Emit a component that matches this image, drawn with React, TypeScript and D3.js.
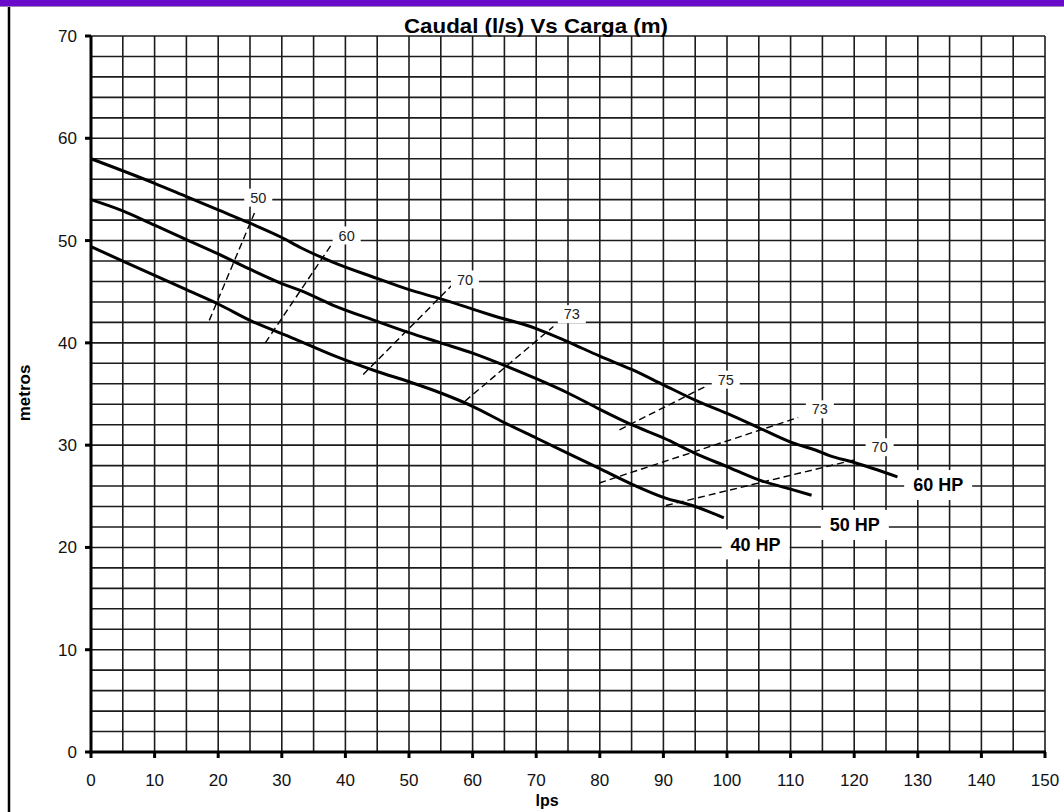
import * as d3 from "d3";

const W = 1064;
const H = 812;

// curves: [lps, metros]
const hp60: [number, number][] = [
  [0, 58], [10, 55.6], [15, 54.3], [20, 53.0], [25, 51.7], [30, 50.3],
  [33, 49.3], [38, 47.9], [45, 46.3], [50, 45.2], [55, 44.3], [60, 43.3], [63, 42.7],
  [70, 41.4], [75, 40.1], [80, 38.7], [85, 37.4], [90, 35.9], [95, 34.4], [100, 33.1],
  [105, 31.7], [110, 30.3], [114, 29.5], [116, 29.0], [120, 28.3], [126.8, 26.9],
];
const hp50: [number, number][] = [
  [0, 54], [5, 52.9], [10, 51.5], [15, 50.1], [20, 48.7], [25, 47.2], [30, 45.8],
  [33, 45.1], [38, 43.7], [45, 42.1], [50, 41.0], [55, 40.0], [60, 39.0], [65, 37.8],
  [70, 36.5], [75, 35.1], [80, 33.5], [85, 32.0], [90, 30.7], [95, 29.2], [100, 27.9],
  [105, 26.6], [110, 25.7], [113.3, 25.1],
];
const hp40: [number, number][] = [
  [0, 49.4], [5, 48.0], [10, 46.6], [15, 45.2], [20, 43.8], [25, 42.2], [32, 40.4],
  [38, 38.8], [45, 37.2], [50, 36.2], [55, 35.1], [60, 33.8], [65, 32.2], [70, 30.7],
  [75, 29.2], [80, 27.7], [85, 26.2], [90, 24.9], [95, 24.0], [99.5, 22.9],
];
const curves = [hp60, hp50, hp40];

const hpLabels = ["60 HP", "50 HP", "40 HP"];
const hpLabelX = [133.2, 120.1, 104.5];
const hpLabelY = [26.1, 22.2, 20.3];

// efficiency iso-lines
const effLabels = ["50", "60", "70", "73", "75", "73", "70"];
const effX0 = [18.6, 27.4, 42.8, 58.8, 83.1, 79.9, 90.4];
const effY0 = [42.2, 40.0, 36.9, 34.3, 31.5, 26.3, 24.1];
const effX1 = [25.7, 37.8, 56.7, 72.7, 96.5, 111.2, 120.3];
const effY1 = [52.7, 49.6, 45.6, 41.6, 35.7, 32.7, 28.6];
const effLabelX = [26.3, 40.2, 58.8, 75.6, 99.8, 114.6, 124.0];
const effLabelY = [54.2, 50.5, 46.2, 42.8, 36.4, 33.5, 29.8];

const xTicks = d3.range(0, 151, 10);
const yTicks = d3.range(0, 71, 10);

const FONT = "Arial, 'Liberation Sans', sans-serif";

export default function App() {
  const x = d3.scaleLinear().domain([0, 150]).range([91, 1045]);
  const y = d3.scaleLinear().domain([0, 70]).range([752, 36]);

  const line = d3
    .line<[number, number]>()
    .x((d) => x(d[0]))
    .y((d) => y(d[1]))
    .curve(d3.curveMonotoneX);

  const vGrid = d3.range(5, 151, 5);
  const hGrid = d3.range(2, 71, 2);

  return (
    <svg
      width={W}
      height={H}
      style={{ position: "absolute", left: 0, top: 0, background: "#fff" }}
      fontFamily={FONT}
    >
      <rect x={0} y={0} width={W} height={6} fill="#6a0bcc" />
      <line x1={0} x2={W} y1={6.5} y2={6.5} stroke="#9a86b8" strokeWidth={1} />
      <line x1={9} x2={9} y1={7} y2={H} stroke="#000" strokeWidth={2.5} />

      {/* grid */}
      {vGrid.map((v) => (
        <line key={"v" + v} x1={x(v)} x2={x(v)} y1={y(0)} y2={y(70)} stroke="#1c1c1c" strokeWidth={1.6} />
      ))}
      {hGrid.map((v) => (
        <line key={"h" + v} x1={x(0)} x2={x(150)} y1={y(v)} y2={y(v)} stroke="#1c1c1c" strokeWidth={1.6} />
      ))}

      {/* axes */}
      <line x1={x(0)} x2={x(0)} y1={y(70)} y2={y(0) + 1.5} stroke="#000" strokeWidth={3} />
      <line x1={x(0) - 1.5} x2={x(150) + 1} y1={y(0)} y2={y(0)} stroke="#000" strokeWidth={3} />
      {yTicks.map((t) => (
        <g key={"yt" + t}>
          <line x1={x(0) - 6} x2={x(0)} y1={y(t)} y2={y(t)} stroke="#000" strokeWidth={3} />
          <text x={77} y={y(t)} dy="0.35em" textAnchor="end" fontSize={17} fill="#111">
            {t}
          </text>
        </g>
      ))}
      {xTicks.map((t) => (
        <g key={"xt" + t}>
          <line x1={x(t)} x2={x(t)} y1={y(0)} y2={y(0) + 6} stroke="#000" strokeWidth={3} />
          <text x={x(t)} y={780} dy="0.35em" textAnchor="middle" fontSize={17} fill="#111">
            {t}
          </text>
        </g>
      ))}

      {/* efficiency lines */}
      {effLabels.map((lab, i) => (
        <line
          key={"e" + i}
          x1={x(effX0[i])}
          y1={y(effY0[i])}
          x2={x(effX1[i])}
          y2={y(effY1[i])}
          stroke="#000"
          strokeWidth={1.4}
          strokeDasharray="7,4"
        />
      ))}
      {effLabels.map((lab, i) => (
        <g key={"el" + i}>
          <rect x={x(effLabelX[i]) - 14} y={y(effLabelY[i]) - 9} width={28} height={18} fill="#fff" />
          <text x={x(effLabelX[i])} y={y(effLabelY[i])} dy="0.35em" textAnchor="middle" fontSize={14.5} fill="#222">
            {lab}
          </text>
        </g>
      ))}

      {/* curves */}
      {curves.map((c, i) => (
        <path key={"c" + i} d={line(c) || ""} fill="none" stroke="#000" strokeWidth={3} />
      ))}

      {hpLabels.map((lab, i) => (
        <g key={"hp" + i}>
          <rect x={x(hpLabelX[i]) - 34} y={y(hpLabelY[i]) - 15} width={68} height={30} fill="#fff" />
          <text x={x(hpLabelX[i])} y={y(hpLabelY[i])} dy="0.35em" textAnchor="middle" fontSize={18} fontWeight="bold" fill="#000">
            {lab}
          </text>
        </g>
      ))}

      {/* titles */}
      <text x={536} y={33} textAnchor="middle" fontSize={21} fontWeight="bold" textLength={264} lengthAdjust="spacingAndGlyphs">
        Caudal (l/s) Vs Carga (m)
      </text>
      <text x={547} y={800} dy="0.35em" textAnchor="middle" fontSize={16} fontWeight="bold">
        lps
      </text>
      <text
        transform={`translate(30,393) rotate(-90)`}
        textAnchor="middle"
        fontSize={17}
        fontWeight="bold"
      >
        metros
      </text>
    </svg>
  );
}
